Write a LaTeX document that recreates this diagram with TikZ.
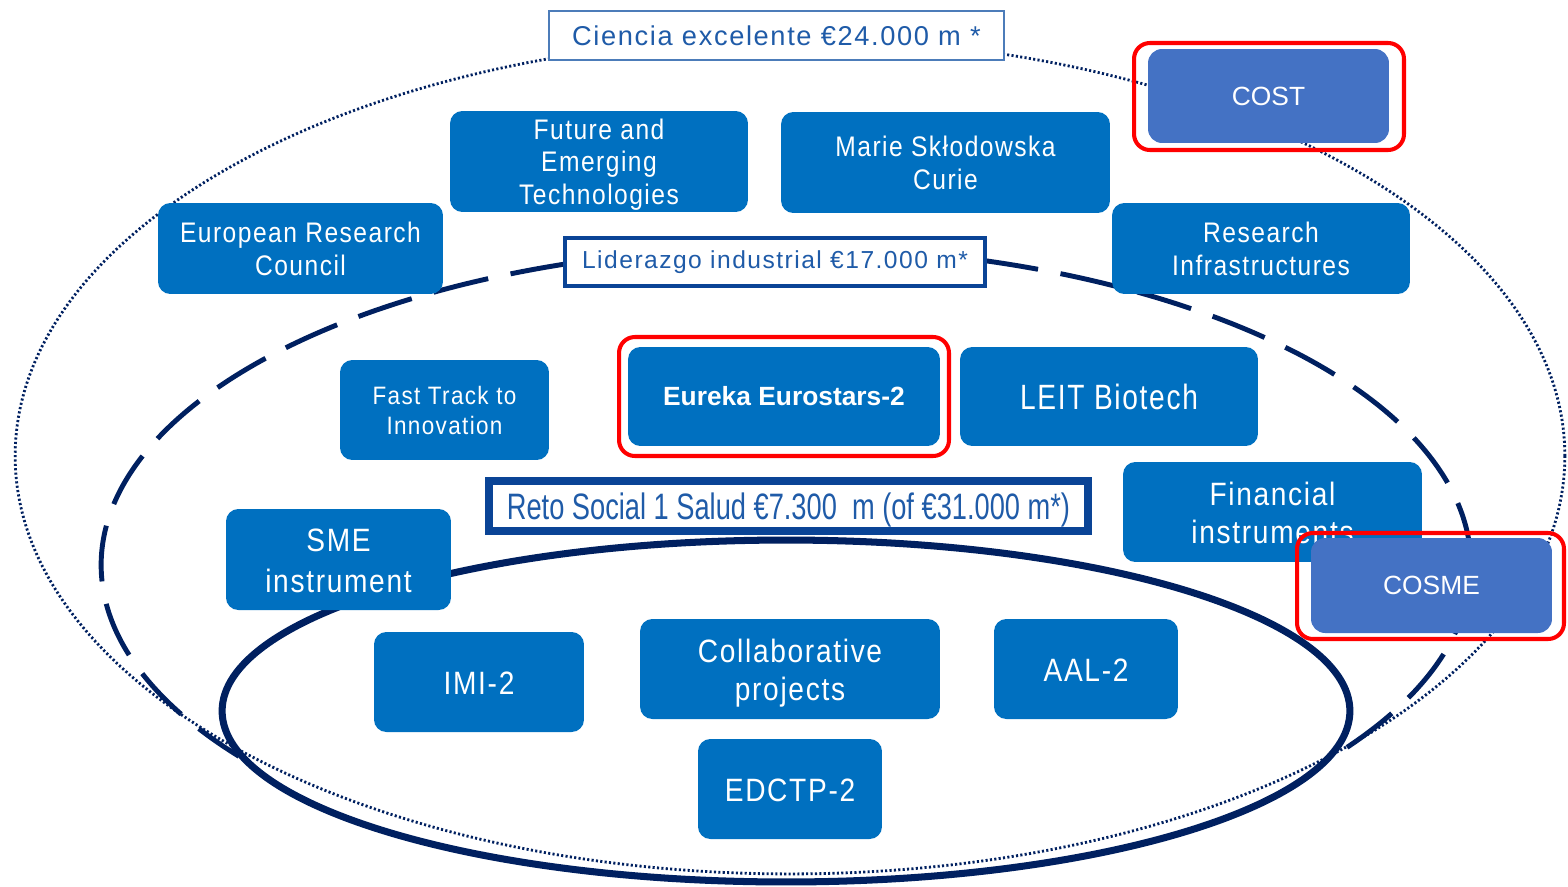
\documentclass[tikz,border=0pt]{standalone}
\usepackage{fontspec}
\setmainfont{Liberation Sans}
\newfontfamily\widefont{Liberation Sans}[LetterSpace=6]
\usepackage{graphicx}
\usetikzlibrary{positioning}

\definecolor{progblue}{HTML}{0070C0}
\definecolor{extblue}{HTML}{4472C4}
\definecolor{ringnavy}{HTML}{002060}
\definecolor{labelblue}{HTML}{1F5BA8}
\definecolor{labeledge}{HTML}{0A4496}
\definecolor{markred}{HTML}{FF0000}

% taller text, as in the slide
\newcommand{\tall}[2][1.15]{\scalebox{1}[#1]{\raisebox{-0.14em}[\height][\depth]{%
  \begin{tabular}{@{}c@{}}#2\end{tabular}}}}

\begin{document}
\begin{tikzpicture}[x=0.02cm, y=-0.02cm,
    prog/.style={fill=progblue, rounded corners=7pt, text=white, inner sep=0pt,
      font=\widefont\fontsize{14}{16}\selectfont},
    bigprog/.style={prog, font=\widefont\fontsize{16}{19}\selectfont},
    ext/.style={fill=extblue, rounded corners=8pt, text=white, inner sep=0pt,
      minimum width=4.82cm, font=\fontsize{15}{18}\selectfont},
    redmark/.style={draw=markred, line width=2.3pt, rounded corners=9pt, inner sep=0pt},
    pillar/.style={fill=white, text=labelblue, inner sep=0pt,
      font=\widefont\fontsize{14}{16}\selectfont},
    excellent/.style={dash pattern=on 1.2pt off 1.3pt, line width=1.6pt, draw=ringnavy},
    industrial/.style={dash pattern=on 32pt off 13pt, line width=2.8pt, draw=ringnavy},
    societal/.style={line width=4pt, draw=ringnavy}]
  \useasboundingbox (0,0) rectangle (1568,886);
  \clip (0,0) rectangle (1568,886);

  % the three pillars
  \draw[excellent] (790,456) ellipse [x radius=15.5cm, y radius=8.36cm];
  \coordinate (ring2) at (786,565);
  \draw[industrial] ([shift={(-35:13.7cm and 6.36cm)}]ring2)
    arc [start angle=-35, end angle=217, x radius=13.7cm, y radius=6.36cm];
  \draw[societal] (786,711) ellipse [x radius=11.28cm, y radius=3.42cm];

  \node[pillar, draw=labelblue!80, line width=1pt, minimum width=9.1cm, minimum height=0.98cm,
    font=\widefont\fontsize{15.5}{18}\selectfont] (ciencia) at (776.5,35.5) {Ciencia excelente €24.000 m *};
  \node[pillar, draw=labeledge, line width=2.3pt, minimum width=8.4cm, minimum height=0.96cm]
    (lider) at (775,262) {Liderazgo industrial €17.000 m*};
  \node[pillar, draw=labeledge, line width=4.5pt, minimum width=11.98cm, minimum height=1cm,
    font=\fontsize{15.5}{18}\selectfont] (reto) at (788.5,506)
    {\tall[1.35]{Reto Social 1 Salud €7.300\ \ m (of €31.000 m*)}};

  % programmes
  \node[prog, minimum width=5.96cm, minimum height=2.02cm] (fet) at (599,161.5)
    {\tall{Future and\\Emerging\\Technologies}};
  \node[prog, minimum width=6.58cm, minimum height=2.02cm] (msc) at (945.5,162.5)
    {\tall{Marie Skłodowska\\Curie}};
  \node[prog, minimum width=5.7cm, minimum height=1.82cm] (erc) at (300.5,248.5)
    {\tall{European Research\\Council}};
  \node[prog, minimum width=5.96cm, minimum height=1.82cm] (ri) at (1261,248.5)
    {\tall{Research\\Infrastructures}};
  \node[prog, minimum width=4.18cm, minimum height=2cm,
    font=\widefont\fontsize{12.8}{15}\selectfont] (ftti) at (444.5,410)
    {\tall[1.12]{Fast Track to\\Innovation}};
  \node[prog, minimum width=6.24cm, minimum height=1.98cm,
    font=\bfseries\fontsize{15}{18}\selectfont] (eureka) at (784,396.5) {Eureka Eurostars-2};
  \node[bigprog, minimum width=5.96cm, minimum height=1.98cm] (leit) at (1109,396.5)
    {\tall[1.25]{LEIT Biotech}};
  \node[bigprog, minimum width=5.98cm, minimum height=2cm] (fin) at (1272.5,512)
    {\tall{Financial\\instruments}};
  \node[bigprog, minimum width=4.5cm, minimum height=2.02cm,
    font=\widefont\fontsize{16}{20}\selectfont] (sme) at (338.5,559.5)
    {\tall{SME\\instrument}};
  \node[bigprog, minimum width=4.2cm, minimum height=2cm] (imi) at (479,682) {\tall{IMI-2}};
  \node[bigprog, minimum width=6cm, minimum height=2cm] (collab) at (790,669)
    {\tall{Collaborative\\projects}};
  \node[bigprog, minimum width=3.68cm, minimum height=2cm] (aal) at (1086,669) {\tall{AAL-2}};
  \node[bigprog, minimum width=3.68cm, minimum height=2cm] (edctp) at (790,789) {\tall{EDCTP-2}};

  % outside Horizon 2020
  \node[ext, minimum height=1.88cm] (cost) at (1268.5,96) {COST};
  \node[ext, minimum height=1.9cm] (cosme) at (1431.5,585.5) {COSME};

  % highlights
  \node[redmark, minimum width=5.4cm, minimum height=2.14cm] (costmark) at (1269,96.5) {};
  \node[redmark, minimum width=6.6cm, minimum height=2.38cm] (eurekamark) at (784,396.5) {};
  \node[redmark, minimum width=5.34cm, minimum height=2.12cm] (cosmemark) at (1430.5,586) {};
\end{tikzpicture}
\end{document}
